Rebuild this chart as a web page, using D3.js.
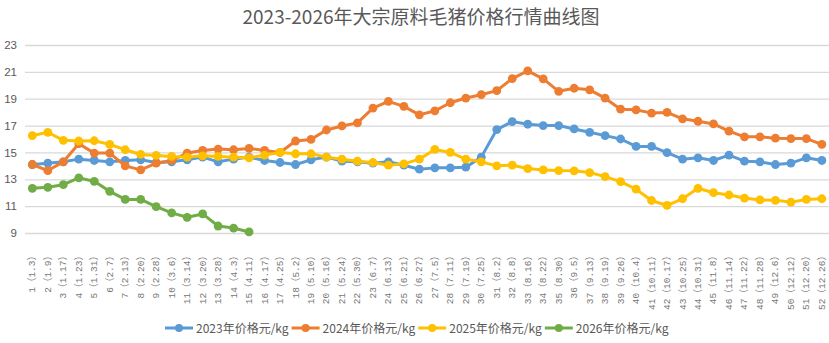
<!DOCTYPE html>
<html>
<head>
<meta charset="utf-8">
<script src="https://cdn.jsdelivr.net/npm/d3@7"></script>
<style>
  html, body { margin: 0; padding: 0; background: #fff; }
  svg { display: block; font-family: "Noto Sans CJK SC", "Noto Sans", sans-serif; }
</style>
</head>
<body>
<svg id="chart" width="829" height="343"></svg>
<script>
// 周次（日期）
const weeks = ["1（1.3）","2（1.9）","3（1.17）","4（1.23）","5（1.31）","6（2.7）","7（2.13）","8（2.20）","9（2.28）","10（3.6）",
  "11（3.14）","12（3.20）","13（3.28）","14（4.3）","15（4.11）","16（4.17）","17（4.25）","18（5.2）","19（5.10）","20（5.16）",
  "21（5.24）","22（5.30）","23（6.7）","24（6.13）","25（6.21）","26（6.27）","27（7.5）","28（7.11）","29（7.19）","30（7.25）",
  "31（8.2）","32（8.8）","33（8.16）","34（8.22）","35（8.30）","36（9.5）","37（9.13）","38（9.19）","39（9.26）","40（10.4）",
  "41（10.11）","42（10.17）","43（10.25）","44（10.31）","45（11.8）","46（11.14）","47（11.22）","48（11.28）","49（12.6）","50（12.12）",
  "51（12.20）","52（12.26）"]

const price2023 = [14.1,14.2,14.3,14.5,14.4,14.3,14.4,14.45,14.25,14.3,
  14.45,14.65,14.3,14.5,14.65,14.4,14.25,14.1,14.45,14.65,
  14.35,14.3,14.2,14.3,14.05,13.75,13.85,13.85,13.9,14.65,
  16.7,17.3,17.1,17.0,17.0,16.75,16.5,16.25,16.0,15.45,
  15.45,14.98,14.5,14.6,14.4,14.8,14.35,14.3,14.1,14.2,14.6,14.4]
const price2024 = [14.1,13.65,14.3,15.65,14.95,14.95,14.0,13.7,14.2,14.4,
  14.95,15.15,15.25,15.2,15.3,15.15,15.0,15.85,15.97,16.67,
  16.97,17.2,18.3,18.8,18.43,17.8,18.1,18.7,19.05,19.3,
  19.6,20.5,21.07,20.48,19.55,19.78,19.66,19.04,18.22,18.17,
  17.93,17.98,17.5,17.32,17.12,16.58,16.16,16.16,16.06,16.03,16.03,15.6]
const price2025 = [16.25,16.5,15.9,15.85,15.87,15.6,15.2,14.85,14.78,14.7,
  14.65,14.75,14.7,14.65,14.6,14.8,15.0,14.9,14.9,14.65,
  14.5,14.35,14.25,14.05,14.15,14.5,15.22,15.0,14.5,14.3,
  14.0,14.05,13.8,13.7,13.65,13.63,13.5,13.2,12.83,12.26,
  11.42,11.05,11.55,12.33,12.0,11.83,11.6,11.46,11.43,11.3,11.5,11.55]
const price2026 = [12.33,12.4,12.6,13.1,12.85,12.1,11.5,11.5,10.96,10.5,10.17,10.42,9.52,9.37,9.08]

const seriesNames = ["2023年价格元/kg","2024年价格元/kg","2025年价格元/kg","2026年价格元/kg"]
const seriesColors = ["#5b9bd5","#ed7d31","#ffc000","#70ad47"]
const yTicks = [9,11,13,15,17,19,21,23]

const series = [price2023, price2024, price2025, price2026].map((vals, i) => ({
  name: seriesNames[i], color: seriesColors[i], values: vals
}))

const svg = d3.select('#chart')
const textColor = '#595959'

const x = d3.scalePoint().domain(weeks).range([24.6, 829.6]).padding(0.5)
const y = d3.scaleLinear().domain([9, 23]).range([233, 45])

// 标题
svg.append('text')
  .attr('x', 421).attr('y', 24)
  .attr('text-anchor', 'middle')
  .attr('font-size', 19)
  .attr('fill', textColor)
  .text('2023-2026年大宗原料毛猪价格行情曲线图')

// 网格线和纵轴
const yAxis = svg.append('g')
  .attr('transform', 'translate(25,0)')
  .call(d3.axisLeft(y).tickValues(yTicks).tickSize(-805).tickPadding(8))
yAxis.select('.domain').remove()
yAxis.selectAll('.tick line').attr('stroke', '#d9d9d9').attr('stroke-width', 1.3)
yAxis.selectAll('.tick text').attr('fill', textColor).attr('font-size', 11.5)
  .attr('font-family', '"Liberation Sans", sans-serif')

// 横轴标签（竖排）
const xAxis = svg.append('g').attr('transform', 'translate(0,251)')
xAxis.selectAll('text').data(weeks).enter().append('text')
  .attr('transform', d => `translate(${x(d) + 3},0) rotate(-90)`)
  .attr('text-anchor', 'end')
  .attr('font-size', 9.5)
  .attr('font-family', '"Liberation Mono", "Noto Sans CJK SC", monospace')
  .attr('fill', '#767676')
  .text(d => d)

// 折线
const line = d3.line().x((d, i) => x(weeks[i])).y(d => y(d))
const groups = svg.selectAll('g.series').data(series).enter().append('g').attr('class', 'series')
groups.append('path')
  .attr('d', d => line(d.values))
  .attr('fill', 'none')
  .attr('stroke', d => d.color)
  .attr('stroke-width', 3)
  .attr('stroke-linejoin', 'round')
groups.selectAll('circle').data(d => d.values.map((v, i) => ({ v, i, color: d.color }))).enter().append('circle')
  .attr('cx', d => x(weeks[d.i]))
  .attr('cy', d => y(d.v))
  .attr('r', 4.4)
  .attr('fill', d => d.color)

// 图例
const legend = svg.append('g').attr('transform', 'translate(165,328)')
let lx = 0
series.forEach(s => {
  const item = legend.append('g').attr('transform', `translate(${lx},0)`)
  item.append('line').attr('x1', 0).attr('x2', 28).attr('y1', 0).attr('y2', 0)
    .attr('stroke', s.color).attr('stroke-width', 3)
  item.append('circle').attr('cx', 14).attr('cy', 0).attr('r', 4).attr('fill', s.color)
  const t = item.append('text').attr('x', 31).attr('y', 4.5)
    .attr('font-size', 12).attr('fill', textColor).text(s.name)
  lx += 31 + t.node().getComputedTextLength() + 3
})
</script>
</body>
</html>
